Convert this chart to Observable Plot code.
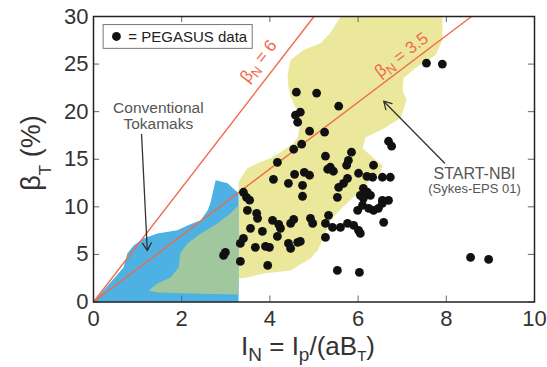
<!DOCTYPE html>
<html><head><meta charset="utf-8">
<script src="https://cdn.jsdelivr.net/npm/d3@7"></script>
<script src="https://cdn.jsdelivr.net/npm/@observablehq/plot@0.6"></script>
<style>
body{margin:0;background:#fff;}
svg{font-family:"Liberation Sans",Arial,Helvetica,sans-serif;}
</style>
</head><body><div id="chart"></div>
<script>
// ---- data ----
const xTicks = [0, 2, 4, 6, 8, 10];
const yTicks = [0, 5, 10, 15, 20, 25, 30];
const betaN = [6, 3.5];

// PEGASUS data points (I_N, beta_T %)
const pegX = [4.60,5.06,4.69,4.58,4.63,4.90,5.24,4.72,4.54,4.17,5.26,5.31,4.08,4.56,4.78,4.90,5.56,6.69,6.76,5.85,
  5.78,5.74,5.37,5.44,6.35,6.01,6.20,6.33,6.55,6.73,4.42,4.74,4.74,3.40,3.47,3.54,3.49,3.70,3.72,3.56,
  3.83,4.06,4.20,4.24,4.47,4.54,4.17,4.92,4.97,5.26,5.33,5.26,3.40,3.33,3.67,3.90,3.99,4.42,4.47,4.63,
  4.69,3.33,3.95,5.76,5.67,5.56,6.12,6.21,6.28,6.05,6.12,5.53,6.55,6.69,5.99,6.10,6.24,6.35,6.46,6.55,
  6.58,5.42,5.60,5.76,5.90,6.01,6.05,5.53,6.03,7.55,7.91,8.55,8.96,2.99,2.95];
const pegY = [22.05,21.95,19.95,19.63,18.89,17.95,17.84,16.58,16.05,14.68,15.32,13.95,12.89,13.42,13.63,13.32,20.58,16.89,16.37,15.74,
  14.89,14.37,14.16,13.74,14.37,13.53,13.20,13.11,13.11,13.11,12.47,12.26,11.11,11.53,11.00,10.70,9.63,9.32,8.79,7.74,
  7.42,8.58,8.16,7.74,8.26,8.68,6.89,8.79,8.26,8.26,9.11,6.79,6.68,6.16,5.74,5.84,5.74,6.16,5.63,6.26,
  6.37,4.26,3.84,13.00,12.47,12.05,11.95,11.53,11.21,11.21,10.89,11.00,10.68,10.68,9.63,10.16,9.84,9.63,9.84,10.37,
  8.37,7.84,7.84,8.26,8.05,7.53,7.21,3.32,3.11,25.10,25.00,4.68,4.47,5.21,4.89];

// START-NBI region (yellow)
const startX = [3.29,3.29,3.29,3.38,3.49,3.72,4.01,4.24,4.54,4.63,4.69,4.65,4.58,4.47,4.42,4.40,4.47,4.76,5.15,5.37,5.60,
  7.91,7.91,7.76,7.30,7.03,7.01,7.10,6.96,6.51,6.17,6.10,6.33,6.55,6.51,6.28,5.99,5.65,5.37,5.22,5.08,4.92,4.69,4.47,3.85,3.49];
const startY = [2.47,10.20,12.60,13.30,14.05,14.58,15.10,15.74,16.68,17.30,18.79,19.84,20.47,21.53,22.58,23.84,25.42,26.47,27.20,28.26,30.00,
  30.00,27.50,25.95,24.60,23.50,22.26,21.20,19.30,18.05,17.30,16.16,15.20,14.37,13.63,12.79,11.42,9.95,8.58,6.79,5.42,4.58,3.95,3.32,3.00,2.58];

// Conventional tokamaks region (blue)
const convX = [0,0.68,0.77,0.91,1.13,1.45,1.90,2.13,2.43,2.59,2.65,2.77,3.04,3.29,3.29];
const convY = [0,3.63,5.11,5.95,6.68,7.21,7.53,8.05,8.58,9.63,10.37,12.79,12.47,11.42,0];

// Overlap region (green)
const overX = [1.25,1.45,1.75,1.93,1.97,2.13,2.43,2.81,3.11,3.29,3.29,2.20,1.45];
const overY = [1.21,1.95,2.58,3.63,5.11,6.16,7.21,8.26,9.32,10.16,0.79,0.89,1.00];

// ---- build tables ----
const pts = pegX.map((x, i) => ({x, y: pegY[i]}));
const poly = (xs, ys) => xs.map((x, i) => ({x, y: ys[i]}));
const yellow = poly(startX, startY);
const blue = poly(convX, convY);
const green = poly(overX, overY);

const plot = Plot.plot({
  width: 547, height: 367,
  marginLeft: 93, marginRight: 13, marginTop: 16, marginBottom: 65.5,
  x: {domain: [0, 10]},
  y: {domain: [0, 30]},
  style: {fontFamily: "Liberation Sans, Arial, sans-serif", background: "#fff", color: "#333"},
  marks: [
    Plot.line(yellow, {x: "x", y: "y", fill: "#ebe89c", stroke: "none"}),
    Plot.line(blue, {x: "x", y: "y", fill: "#4db1e4", stroke: "none"}),
    Plot.line(green, {x: "x", y: "y", fill: "#a1c79e", stroke: "none"}),
    Plot.link(betaN, {x1: () => 0, y1: () => 0, x2: b => 30 / b, y2: () => 30, stroke: "#f0694b", strokeWidth: 1.4}),
    Plot.dot(pts, {x: "x", y: "y", r: 4.4, fill: "#111", stroke: "none"}),
    // legend
    Plot.rect([0], {x1: () => 0.23, x2: () => 3.61, y1: () => 26.6, y2: () => 29.1, fill: "#fff", stroke: "#777", strokeWidth: 1}),
    Plot.dot([0], {x: () => 0.52, y: () => 27.9, r: 4.4, fill: "#111"}),
    Plot.text(["= PEGASUS data"], {x: () => 0.79, y: () => 27.85, text: d => d, textAnchor: "start", fontSize: 15, fill: "#222"}),
    // annotations
    Plot.text(["Conventional", "Tokamaks"], {x: () => 1.47, y: (d, i) => [20.4, 18.75][i], text: d => d, fontSize: 15.5, fill: "#555"}),
    Plot.text(["START-NBI"], {x: () => 8.64, y: () => 13.5, text: d => d, fontSize: 16, fill: "#555"}),
    Plot.text(["(Sykes-EPS 01)"], {x: () => 8.64, y: () => 11.9, text: d => d, fontSize: 13, fill: "#555"}),
    Plot.arrow([0], {x1: () => 1.09, y1: () => 17.6, x2: () => 1.22, y2: () => 5.4, stroke: "#333", strokeWidth: 1.3, headLength: 10}),
    Plot.arrow([0], {x1: () => 7.96, y1: () => 14.6, x2: () => 6.58, y2: () => 21.1, stroke: "#333", strokeWidth: 1.3, headLength: 10}),
    // inward ticks
    Plot.ruleX(xTicks, {x: d => d, y1: () => 0, y2: () => 0.63, stroke: "#666"}),
    Plot.ruleX(xTicks, {x: d => d, y1: () => 29.37, y2: () => 30, stroke: "#666"}),
    Plot.ruleY(yTicks, {y: d => d, x1: () => 0, x2: () => 0.14, stroke: "#666"}),
    Plot.ruleY(yTicks, {y: d => d, x1: () => 9.86, x2: () => 10, stroke: "#666"}),
    Plot.frame({stroke: "#222", strokeWidth: 1.5}),
    Plot.axisX({ticks: xTicks, tickSize: 0, tickPadding: 8, fontSize: 22, label: null, fill: "#333"}),
    Plot.axisY({ticks: yTicks, tickSize: 0, tickPadding: 5, fontSize: 22, label: null, fill: "#333"})
  ]
});

document.getElementById("chart").appendChild(plot);

// ---- texts with subscripts ----
const svg = d3.select(plot);
const sx = plot.scale("x"), sy = plot.scale("y");

// Y axis title
const yt = svg.append("text")
  .attr("transform", "translate(40,153) rotate(-90)")
  .attr("text-anchor", "middle").attr("font-size", 27).attr("fill", "#333");
yt.append("tspan").text("β");
yt.append("tspan").attr("font-size", 17).attr("dy", 11).text("T");
yt.append("tspan").attr("dy", -11).text(" (%)");

// X axis title
const xt = svg.append("text")
  .attr("x", 308).attr("y", 355)
  .attr("text-anchor", "middle").attr("font-size", 26).attr("fill", "#333");
xt.append("tspan").text("I");
xt.append("tspan").attr("font-size", 19).attr("dy", 6).text("N");
xt.append("tspan").attr("dy", -6).text(" = I");
xt.append("tspan").attr("font-size", 19).attr("dy", 6).text("p");
xt.append("tspan").attr("dy", -6).text("/(aB");
xt.append("tspan").attr("font-size", 15).attr("dy", 6).text("T");
xt.append("tspan").attr("dy", -6).text(")");

// beta_N labels along lines
const betaLabelPos = [[3.85, 24.9], [7.07, 25.45]];
betaN.forEach((b, i) => {
  const ang = Math.atan2(sy.apply(b) - sy.apply(0), sx.apply(1) - sx.apply(0)) * 180 / Math.PI;
  const px = sx.apply(betaLabelPos[i][0]), py = sy.apply(betaLabelPos[i][1]);
  const t = svg.append("text")
    .attr("transform", `translate(${px},${py}) rotate(${ang})`)
    .attr("text-anchor", "middle").attr("font-size", 17).attr("fill", "#f0694b");
  t.append("tspan").text("β");
  t.append("tspan").attr("font-size", 13).attr("dy", 4).text("N");
  t.append("tspan").attr("dy", -4).text(" = " + b);
});
</script></body></html>
